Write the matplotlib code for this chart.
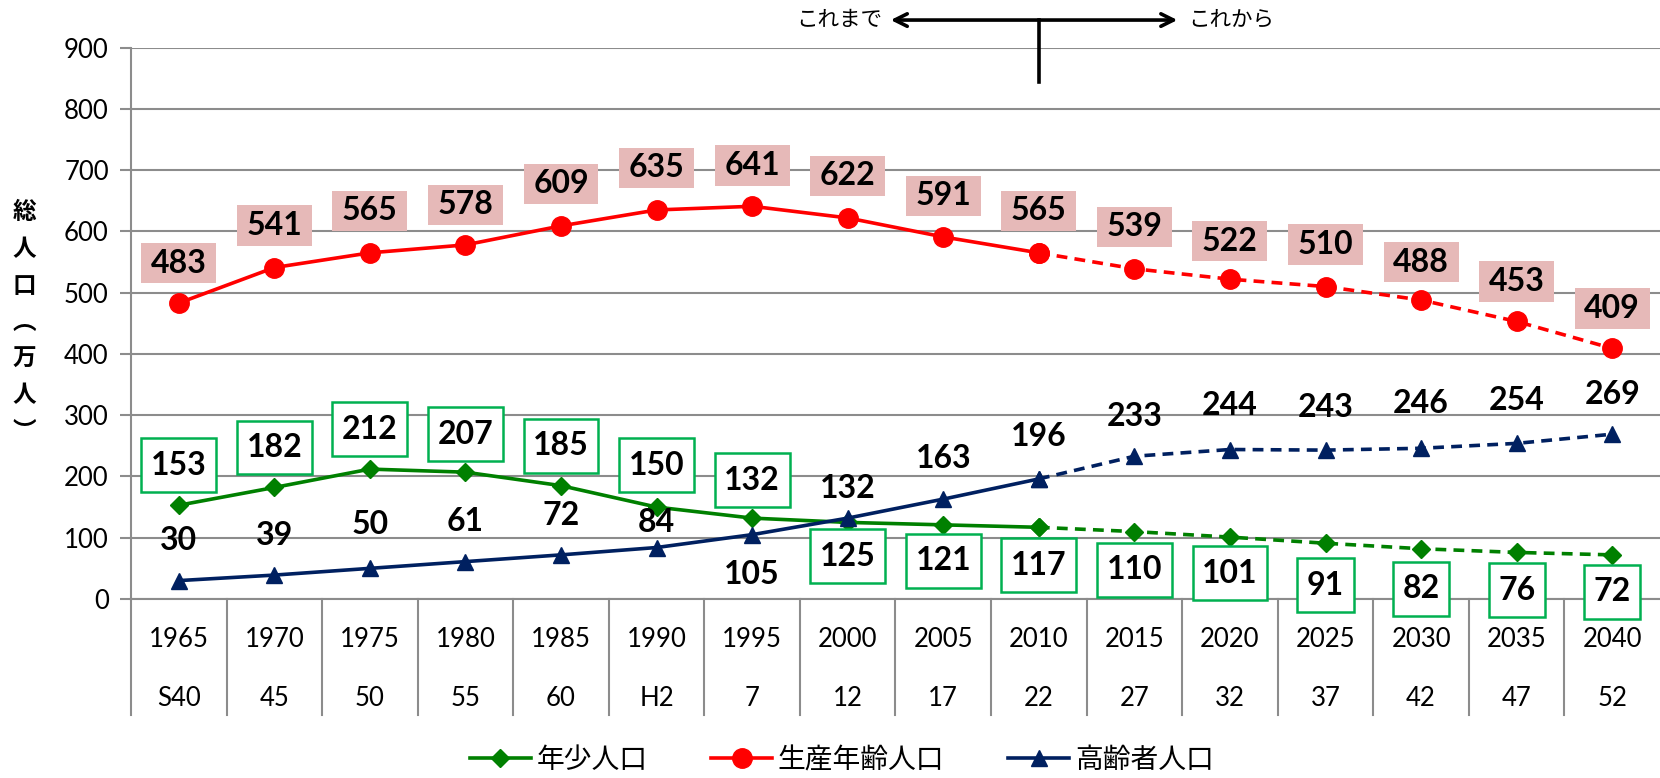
import matplotlib
matplotlib.use("Agg")
import matplotlib.pyplot as plt
import matplotlib.transforms as mtransforms
import numpy as np

# data
years = ["1965", "1970", "1975", "1980", "1985", "1990", "1995", "2000",
         "2005", "2010", "2015", "2020", "2025", "2030", "2035", "2040"]
eras = ["S40", "45", "50", "55", "60", "H2", "7", "12",
        "17", "22", "27", "32", "37", "42", "47", "52"]
young = [153, 182, 212, 207, 185, 150, 132, 125, 121, 117, 110, 101, 91, 82, 76, 72]
working = [483, 541, 565, 578, 609, 635, 641, 622, 591, 565, 539, 522, 510, 488, 453, 409]
elderly = [30, 39, 50, 61, 72, 84, 105, 132, 163, 196, 233, 244, 243, 246, 254, 269]
split = 9  # 2010: last actual value, projections after

# label offsets (pixels, + is up)
young_off = [40, 40, 40, 38, 40, 42, 38, -34, -36, -38, -38, -36, -42, -40, -38, -37]
working_off = [40, 42, 42, 40, 42, 42, 41, 42, 41, 42, 42, 38, 42, 38, 40, 40]
elderly_off = [40, 40, 44, 40, 39, 25, -40, 30, 41, 42, 40, 44, 43, 45, 43, 40]

FONT = ["Lato", "Noto Sans CJK JP", "DejaVu Sans"]
plt.rcParams['font.family'] = FONT

GREEN = "#008000"
RED = "#ff0000"
NAVY = "#002060"
GRID = "#8c8c8c"

fig = plt.figure(figsize=(16.6, 7.78), dpi=100)
ax = fig.add_axes([0.0789, 0.2301, 0.9211, 0.7087])
x = np.arange(len(years))

def draw(vals, color, marker, ms, label):
    ax.plot(x[:split + 1], vals[:split + 1], color=color, lw=2.6, marker=marker,
            ms=ms, label=label, zorder=3)
    ax.plot(x[split:], vals[split:], color=color, lw=2.6, ls=(0, (3, 2)),
            marker=marker, ms=ms, zorder=3)

draw(young, GREEN, "D", 9, "年少人口")
draw(working, RED, "o", 14, "生産年齢人口")
draw(elderly, NAVY, "^", 11, "高齢者人口")

LBL = 23
for i in range(len(years)):
    ax.annotate(str(working[i]), (x[i], working[i]), xytext=(0, working_off[i]),
                textcoords="offset pixels", ha="center", va="center",
                fontsize=LBL, fontweight="bold",
                bbox=dict(boxstyle="square,pad=0.3", fc="#e6b9b8", ec="none",
                          mutation_aspect=0.6), zorder=4)
    ax.annotate(str(young[i]), (x[i], young[i]), xytext=(0, young_off[i]),
                textcoords="offset pixels", ha="center", va="center",
                fontsize=LBL, fontweight="bold",
                bbox=dict(boxstyle="square,pad=0.3", fc="white", ec="#00b050", lw=1.8,
                          mutation_aspect=1.3), zorder=4)
    ax.annotate(str(elderly[i]), (x[i], elderly[i]), xytext=(0, elderly_off[i]),
                textcoords="offset pixels", ha="center", va="center",
                fontsize=LBL, fontweight="bold", zorder=4)

ax.set_xlim(-0.5, len(years) - 0.5)
ax.set_ylim(0, 900)
ax.set_yticks(np.arange(0, 901, 100))
ax.yaxis.grid(True, color=GRID, lw=1.5)
ax.set_axisbelow(True)
ax.tick_params(axis="y", labelsize=18.5, length=8, color=GRID, width=1.5, pad=8)
ax.set_xticks([])
for s in ["top", "right"]:
    ax.spines[s].set_visible(False)
ax.spines["left"].set_color(GRID)
ax.spines["left"].set_linewidth(1.5)
ax.spines["bottom"].set_color(GRID)
ax.spines["bottom"].set_linewidth(1.5)

# two-level category axis
trans = mtransforms.blended_transform_factory(ax.transData, ax.transAxes)
for b in np.arange(-0.5, len(years) - 1, 1.0):
    ax.plot([b, b], [0, -0.21], transform=trans, color=GRID, lw=1.5, clip_on=False)
for i in range(len(years)):
    ax.text(x[i], -0.074, years[i], transform=trans, ha="center", va="center", fontsize=18.5)
    ax.text(x[i], -0.181, eras[i], transform=trans, ha="center", va="center", fontsize=18.5)

# y label, vertical writing
fig.text(0.0145, 0.586, "総\n人\n口\n︵\n万\n人\n︶", ha="center", va="center",
         fontsize=17, fontweight="bold", linespacing=1.66, family=["Noto Sans CJK JP"])

# これまで / これから
ax.annotate("", xy=(7.45, 1.05), xytext=(10.45, 1.05), xycoords=trans,
            textcoords=trans, annotation_clip=False,
            arrowprops=dict(arrowstyle="<->,head_length=0.9,head_width=0.45",
                            color="black", lw=2.6, shrinkA=0, shrinkB=0))
ax.plot([split, split], [1.05, 0.937], transform=trans, color="black", lw=2.6, clip_on=False)
ax.text(7.36, 1.05, "これまで", transform=trans, ha="right", va="center", fontsize=15.5)
ax.text(10.56, 1.05, "これから", transform=trans, ha="left", va="center", fontsize=15.5)

fig.legend(loc="center", bbox_to_anchor=(0.507, 0.023), ncol=3, frameon=False,
           fontsize=20, handlelength=2.2, columnspacing=2.3, handletextpad=0.2)

fig.savefig("out.png", dpi=100)
